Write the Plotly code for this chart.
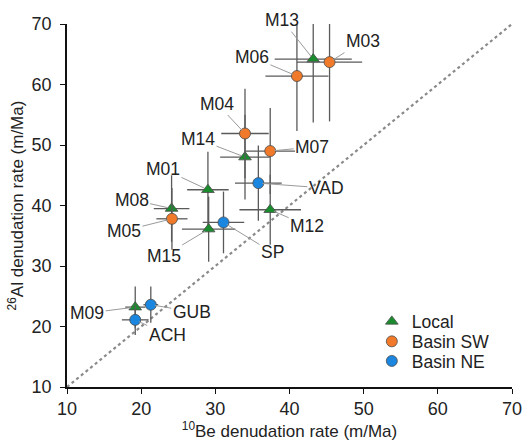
import plotly.graph_objects as go

# ---- data ----
local_labels = ["M13", "M14", "M01", "M08", "M15", "M12", "M09"]
local_be = [43.2, 34.0, 29.0, 24.1, 29.1, 37.4, 19.2]
local_al = [64.2, 48.0, 42.6, 39.5, 36.1, 39.3, 23.2]
local_be_err = [5.2, 3.35, 2.8, 2.4, 3.6, 4.15, 1.35]
local_al_err = [10.5, 7.0, 6.3, 5.5, 5.4, 5.8, 3.4]

sw_labels = ["M03", "M06", "M04", "M07", "M05"]
sw_be = [45.4, 41.0, 34.0, 37.4, 24.15]
sw_al = [63.7, 61.4, 51.9, 49.0, 37.8]
sw_be_err = [4.4, 4.25, 3.2, 3.35, 2.1]
sw_al_err = [9.8, 9.1, 7.4, 7.1, 5.1]

ne_labels = ["VAD", "SP", "GUB", "ACH"]
ne_be = [35.8, 31.1, 21.3, 19.2]
ne_al = [43.7, 37.2, 23.6, 21.1]
ne_be_err = [3.15, 2.8, 1.0, 1.8]
ne_al_err = [6.2, 5.1, 3.0, 2.5]

one_to_one = [10, 70]
tick_vals = [10, 20, 30, 40, 50, 60, 70]

# label offsets (pixels) relative to each point
label_offsets = {
    "M13": (-31, -39), "M03": (33, -21), "M06": (-45, -19), "M04": (-28, -30),
    "M14": (-47, -18), "M07": (42, -4), "M01": (-45, -21), "VAD": (68, 5),
    "M08": (-40, -9), "M05": (-48, 12), "M12": (37, 16), "M15": (-45, 27),
    "SP": (49, 30), "M09": (-48, 6), "GUB": (41, 7), "ACH": (32, 15),
}

FONT = "Liberation Sans, Arial, sans-serif"
ERR_COLOR = "#5a5a5a"
TXT = "#222"

fig = go.Figure()

fig.add_trace(go.Scatter(
    x=one_to_one, y=one_to_one, mode="lines",
    line=dict(color="#8a8a8a", width=2.2, dash="dot"),
    showlegend=False, hoverinfo="skip"))

groups = [
    ("Local", "legend", local_labels, local_be, local_al, local_be_err, local_al_err,
     "#1a8c2e", "triangle-up", 11),
    ("Basin SW", "legend2", sw_labels, sw_be, sw_al, sw_be_err, sw_al_err,
     "#f07a2a", "circle", 11),
    ("Basin NE", "legend3", ne_labels, ne_be, ne_al, ne_be_err, ne_al_err,
     "#1b86e0", "circle", 11),
]

for name, leg, labels, xs, ys, xe, ye, color, symbol, size in groups:
    fig.add_trace(go.Scatter(
        x=xs, y=ys, mode="markers", name=name, text=labels, legend=leg,
        marker=dict(color=color, symbol=symbol, size=size,
                    line=dict(color="#4a4a4a", width=0.8)),
        error_x=dict(type="data", array=xe, color=ERR_COLOR, thickness=1.3, width=0),
        error_y=dict(type="data", array=ye, color=ERR_COLOR, thickness=1.3, width=0),
    ))
    for lab, xv, yv in zip(labels, xs, ys):
        ax, ay = label_offsets[lab]
        fig.add_annotation(
            x=xv, y=yv, text=lab, showarrow=True, arrowhead=0,
            arrowwidth=1, arrowcolor="#9a9a9a", ax=ax, ay=ay,
            standoff=4, font=dict(family=FONT, size=17.5, color=TXT))

axis_common = dict(
    range=[10, 70], tickvals=tick_vals, showgrid=False, zeroline=False,
    showline=True, linecolor="#111", linewidth=1.5, ticks="outside",
    ticklen=5, tickwidth=1.3, tickcolor="#111", automargin=False,
    tickfont=dict(family=FONT, size=18, color=TXT),
)

leg_common = dict(x=0.685, xanchor="left", yanchor="top",
                  bgcolor="rgba(0,0,0,0)",
                  font=dict(family=FONT, size=17.5, color=TXT))

fig.update_layout(
    width=526, height=442,
    margin=dict(l=67, r=14, t=24, b=55),
    paper_bgcolor="white", plot_bgcolor="white",
    font=dict(family=FONT, size=17, color=TXT),
    hovermode=False,
    xaxis=dict(**axis_common,
               title=dict(text="<sup>10</sup>Be denudation rate (m/Ma)",
                          font=dict(family=FONT, size=17, color=TXT), standoff=2)),
    yaxis=dict(**axis_common, ticklabelstandoff=5,
               title=dict(text="<sup>26</sup>Al denudation rate (m/Ma)",
                          font=dict(family=FONT, size=17, color=TXT), standoff=4)),
    legend=dict(**leg_common, y=0.230),
    legend2=dict(**leg_common, y=0.175),
    legend3=dict(**leg_common, y=0.121),
    showlegend=True,
)

fig.write_html("out.html",
               config={"displayModeBar": False},
               post_script="document.body.style.margin='0';document.body.style.overflow='hidden';")
